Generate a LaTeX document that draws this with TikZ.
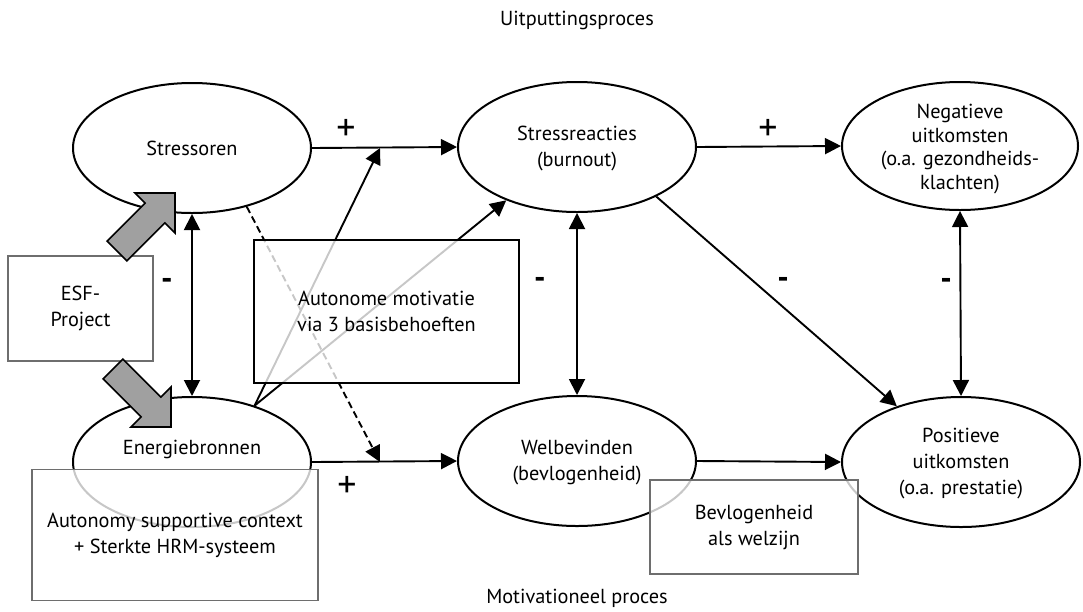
\documentclass[tikz,border=0pt]{standalone}
\usepackage{fontspec}
\setmainfont{PT Sans}
\usetikzlibrary{shapes.geometric,arrows.meta}
\definecolor{boxgray}{HTML}{6E6E6E}
\definecolor{blockgray}{HTML}{A0A0A0}
\begin{document}
\begin{tikzpicture}[x=1pt,y=-1pt,
  ell/.style={ellipse,draw,line width=2pt,minimum width=238pt,minimum height=130pt,inner sep=0pt},
  txt/.style={align=center,inner sep=0pt,font=\fontsize{20.3}{26}\selectfont},
  sign/.style={inner sep=0pt,font=\bfseries\fontsize{32}{32}\selectfont},
  plus/.style={inner sep=0pt,font=\fontsize{38}{38}\selectfont},
  arr/.style={line width=1.9pt,-{Triangle[length=16pt,width=16pt]}},
  darr/.style={line width=1.9pt,{Triangle[length=16pt,width=16pt]}-{Triangle[length=16pt,width=16pt]}},
  dasharr/.style={line width=1.9pt,dash pattern=on 7pt off 4pt,-{Triangle[length=16pt,width=16pt]}},
  gbox/.style={rectangle,draw=boxgray,line width=1.6pt,fill=white,fill opacity=0.78,draw opacity=1,text opacity=1,align=center,inner sep=0pt,font=\fontsize{20.3}{26}\selectfont},
  kbox/.style={gbox,draw=black},
  block/.style={draw=black,line width=1.6pt,fill=blockgray,line join=miter}
]
\useasboundingbox (0,0) rectangle (1083,611);

% titles
\node[txt] (t1) at (577,20) {Uitputtingsproces};
\node[txt] (t2) at (577,598) {Motivationeel proces};

% ellipses
\node[ell] (so) at (192,148) {};
\node[ell] (sr) at (577,147) {};
\node[ell,minimum width=236pt,minimum height=128pt] (neg) at (960,146) {};
\node[ell] (eb) at (192,462) {};
\node[ell] (wb) at (577,461) {};
\node[ell] (pos) at (961,462) {};

\node[txt] (sot) at (so) {Stressoren};
\node[txt] (srt) at (577,149) {Stressreacties\\(burnout)};
\node[txt,font=\fontsize{20.3}{23.5}\selectfont] (negt) at (960,149) {Negatieve\\uitkomsten\\(o.a. gezondheids-\\klachten)};
\node[txt] (ebt) at (192,449) {Energiebronnen};
\node[txt] (wbt) at (577,463) {Welbevinden\\(bevlogenheid)};
\node[txt] (post) at (961,464) {Positieve\\uitkomsten\\(o.a. prestatie)};

% helper points on horizontal arrows
\coordinate (m1) at (380,148);
\coordinate (m2) at (380,462);

% arrows
\draw[arr] (so.east) -- (sr.west);
\draw[arr] (eb.east) -- (wb.west);
\draw[arr] (sr.east) -- (neg.west);
\draw[arr] (wb.east) -- (pos.west);
\draw[darr] (so.south) -- (eb.north);
\draw[darr] (sr.south) -- (wb.north);
\draw[darr] (neg.south) -- (pos.north);
\draw[arr] (sr.-32) -- (pos.139);
\draw[arr] (eb.42) -- (m1);
\draw[arr] (eb.42) -- (sr.217);
\draw[dasharr] (so.-47) -- (m2);

% signs
\node[plus] (p1) at (346,130) {+};
\node[plus] (p2) at (347,487) {+};
\node[plus] (p3) at (768,130) {+};
\node[sign] (n1) at (167,284) {-};
\node[sign] (n2) at (540,283) {-};
\node[sign] (n3) at (783,283) {-};
\node[sign] (n4) at (946,284) {-};

% ESF box
\node[gbox,minimum width=145pt,minimum height=105pt] (esf) at (80.5,308.5) {ESF-\\Project};

% block arrows
\draw[block] (175,193) -- (135,193) -- (145.1,203.1) -- (107.1,241.1) -- (126.9,260.9) -- (164.9,222.9) -- (175,233) -- cycle;
\draw[block] (171,427) -- (131,427) -- (141.1,416.9) -- (103.1,378.9) -- (122.9,359.1) -- (160.9,397.1) -- (171,387) -- cycle;

% translucent boxes
\node[kbox,minimum width=265pt,minimum height=143pt] (am) at (386.5,311.5) {Autonome motivatie\\via 3 basisbehoeften};
\node[gbox,minimum width=286pt,minimum height=131pt] (asc) at (175,535) {Autonomy supportive context\\+ Sterkte HRM-systeem};
\node[gbox,minimum width=208pt,minimum height=94pt] (bev) at (754,527) {Bevlogenheid\\als welzijn};
\end{tikzpicture}
\end{document}
